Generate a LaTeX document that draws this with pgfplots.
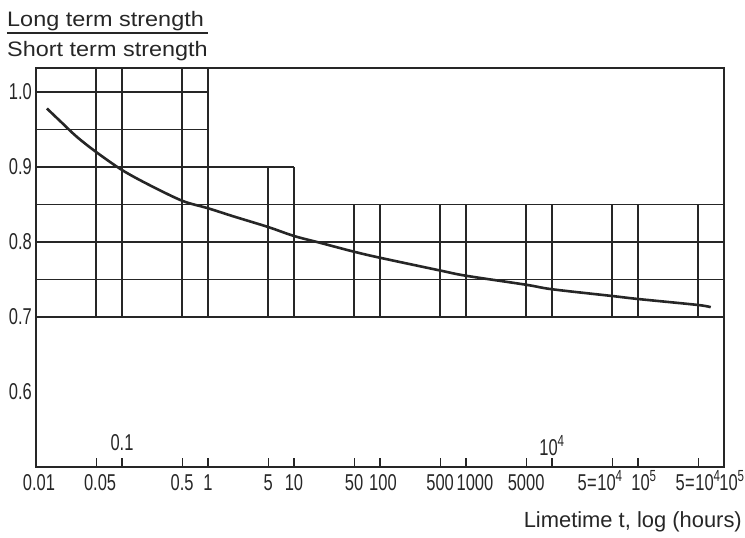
\documentclass[border=0pt]{standalone}
\usepackage{fontspec}
\setmainfont{Liberation Sans}
\newfontfamily\tickfont[FakeStretch=0.72]{Liberation Sans}
\newfontfamily\titlefont[FakeStretch=1.12]{Liberation Sans}
\newfontfamily\labfont[FakeStretch=1.0]{Liberation Sans}
\usepackage{pgfplots}
\pgfplotsset{compat=1.18}
\definecolor{ink}{HTML}{262626}
\newcommand{\tf}{\tickfont\fontsize{23}{26}\selectfont}
\newcommand{\eq}{\kern0.5pt{=}\kern0.5pt}
\begin{document}
\begin{tikzpicture}
\useasboundingbox (-36bp,-71bp) rectangle (709bp,467bp);
\begin{axis}[
  name=ax,
  at={(0,0)}, anchor=south west,
  scale only axis, width=688bp, height=399bp,
  xmode=log, xmin=0.01, xmax=1e6, ymin=0.5, ymax=1.032,
  axis line style={line width=1.4bp, ink},
  tick align=inside, major tick length=9bp,
  xtick pos=left, ytick pos=left,
  minor xtick={}, minor tick num=0,
  xtick={0.01,0.05,0.1,0.5,1,5,10,50,100,500,1000,5000,10000,50000,100000,500000,1000000},
  xticklabels={{\hspace*{6bp}0.01},{\hspace*{8bp}0.05},{},{0.5},{1},{5},{10},{50},{\hspace*{6bp}100},{500},{\hspace*{18bp}1000},{5000},{},{\hspace*{-24bp}5\eq10\textsuperscript{4}},{\hspace*{12bp}10\textsuperscript{5}},{5\eq10\textsuperscript{4}},{\hspace*{16bp}10\textsuperscript{5}}},
  ytick={0.6,0.7,0.8,0.9,1.0},
  yticklabels={{0.6},{0.7},{0.8},{0.9},{1.0}},
  xtick style={line width=1.2bp, ink},
  ytick style={draw=none},
  xticklabel style={font=\tf, anchor=base, inner sep=0pt, yshift=-23bp, text=ink},
  yticklabel style={font=\tf, anchor=east, inner sep=0pt, xshift=-4bp, text=ink},
  gridl/.style={line width=1.3bp, ink, forget plot},
]
% horizontal grid segments
\addplot[gridl] coordinates {(0.01,1.0) (1,1.0)};
\addplot[gridl] coordinates {(0.01,0.95) (1,0.95)};
\addplot[gridl] coordinates {(0.01,0.9) (10,0.9)};
\addplot[gridl] coordinates {(0.01,0.85) (1e6,0.85)};
\addplot[gridl] coordinates {(0.01,0.8) (1e6,0.8)};
\addplot[gridl] coordinates {(0.01,0.75) (1e6,0.75)};
\addplot[gridl] coordinates {(0.01,0.7) (1e6,0.7)};
% vertical grid segments
\addplot[gridl] coordinates {(0.05,0.7) (0.05,1.032)};
\addplot[gridl] coordinates {(0.1,0.7) (0.1,1.032)};
\addplot[gridl] coordinates {(0.5,0.7) (0.5,1.032)};
\addplot[gridl] coordinates {(1,0.7) (1,1.032)};
\addplot[gridl] coordinates {(5,0.7) (5,0.9)};
\addplot[gridl] coordinates {(10,0.7) (10,0.9)};
\addplot[gridl] coordinates {(50,0.7) (50,0.85)};
\addplot[gridl] coordinates {(100,0.7) (100,0.85)};
\addplot[gridl] coordinates {(500,0.7) (500,0.85)};
\addplot[gridl] coordinates {(1000,0.7) (1000,0.85)};
\addplot[gridl] coordinates {(5000,0.7) (5000,0.85)};
\addplot[gridl] coordinates {(10000,0.7) (10000,0.85)};
\addplot[gridl] coordinates {(50000,0.7) (50000,0.85)};
\addplot[gridl] coordinates {(100000,0.7) (100000,0.85)};
\addplot[gridl] coordinates {(500000,0.7) (500000,0.85)};
% strength ratio curve
\addplot[line width=2.6bp, ink, smooth, tension=0.5] coordinates {
 (0.0134,0.978) (0.02,0.959) (0.03,0.940) (0.05,0.920) (0.1,0.896)
 (0.2,0.877) (0.5,0.855) (1,0.845) (2,0.834) (5,0.820) (10,0.808)
 (20,0.799) (50,0.787) (100,0.779) (500,0.762) (1000,0.755)
 (5000,0.743) (10000,0.737) (50000,0.728) (100000,0.724)
 (500000,0.716) (700000,0.713)};
\node[anchor=base, inner sep=0pt, yshift=17bp, font=\tf, text=ink] at (axis cs:0.1,0.5) {0.1};
\node[anchor=base, inner sep=0pt, yshift=12bp, font=\tf, text=ink] at (axis cs:10000,0.5) {10\textsuperscript{4}};
\end{axis}
\node[anchor=base west, inner sep=0pt, font=\titlefont\fontsize{21}{24}\selectfont, text=ink] at (-29bp,440bp) {Long term strength};
\draw[line width=1.2bp, ink] (-29bp,434bp) -- (172bp,434bp);
\node[anchor=base west, inner sep=0pt, font=\titlefont\fontsize{21}{24}\selectfont, text=ink] at (-29bp,410bp) {Short term strength};
\node[anchor=base east, inner sep=0pt, font=\labfont\fontsize{22}{24}\selectfont, text=ink] at (706bp,-60bp) {Limetime t, log (hours)};
\end{tikzpicture}
\end{document}
